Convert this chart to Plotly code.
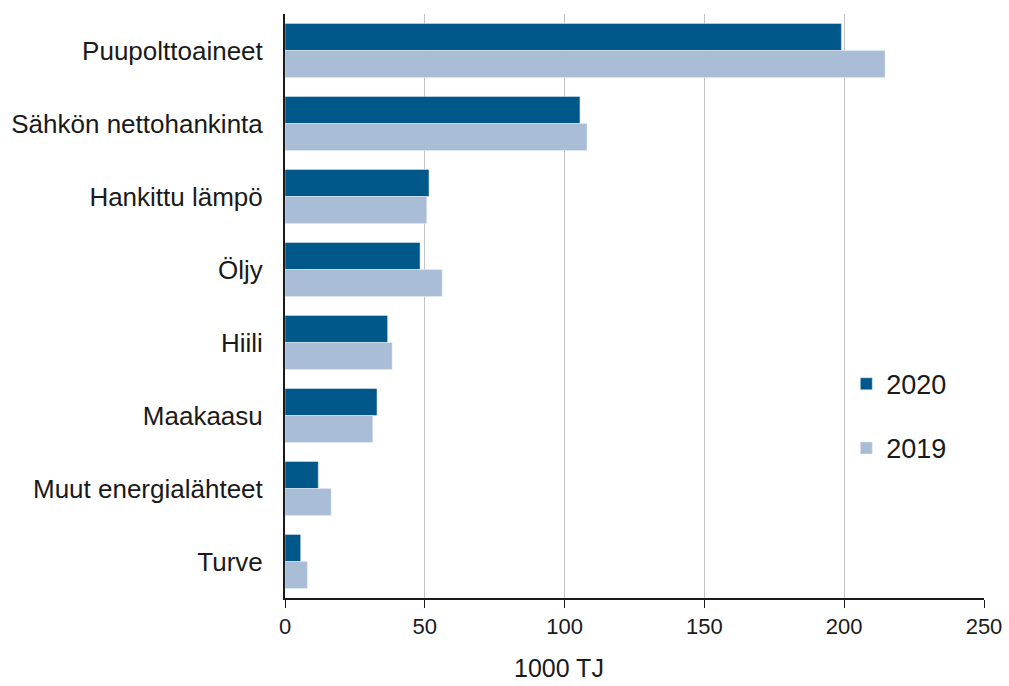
import plotly.graph_objects as go

categories = ["Puupolttoaineet", "Sähkön nettohankinta", "Hankittu lämpö", "Öljy",
              "Hiili", "Maakaasu", "Muut energialähteet", "Turve"]
values_2020 = [199.0, 105.5, 51.5, 48.3, 36.7, 32.9, 11.9, 5.6]
values_2019 = [214.6, 108.0, 50.7, 56.2, 38.3, 31.4, 16.5, 8.0]
x_ticks = [0, 50, 100, 150, 200, 250]

FONT = "Liberation Sans, Arial, sans-serif"

fig = go.Figure()
fig.add_trace(go.Bar(y=categories, x=values_2020, name="2020", orientation="h",
                     marker_color="#00588a", legendgroup="a"))
fig.add_trace(go.Bar(y=categories, x=values_2019, name="2019", orientation="h",
                     marker_color="#aabdd6", legendgroup="b"))

fig.update_layout(
    width=1009, height=686,
    margin=dict(l=285, r=25, t=14, b=88),
    paper_bgcolor="white", plot_bgcolor="white",
    barmode="group", bargap=0.26, bargroupgap=0,
    font=dict(family=FONT, size=22, color="#1a1a1a"),
    legend=dict(x=0.803, y=0.408, xanchor="left", yanchor="top",
                font=dict(size=27), tracegroupgap=26, traceorder="grouped",
                bgcolor="rgba(0,0,0,0)"),
    xaxis=dict(range=[0, 250], tickvals=x_ticks, showgrid=True, gridcolor="#c4c4c4",
               gridwidth=1, showline=True, linecolor="#1a1a1a", linewidth=2,
               ticks="outside", ticklen=8, tickcolor="#1a1a1a", tickwidth=1,
               tickfont=dict(size=22), zeroline=False, automargin=False),
    yaxis=dict(autorange="reversed", showline=True, linecolor="#1a1a1a", linewidth=2,
               ticks="", tickfont=dict(size=26), ticklabelstandoff=15, automargin=False),
    annotations=[dict(text="1000 TJ", x=0.392, y=-0.12, xref="paper", yref="paper",
                      xanchor="center", yanchor="middle", showarrow=False,
                      font=dict(size=25))],
)

fig.write_html("out.html")
